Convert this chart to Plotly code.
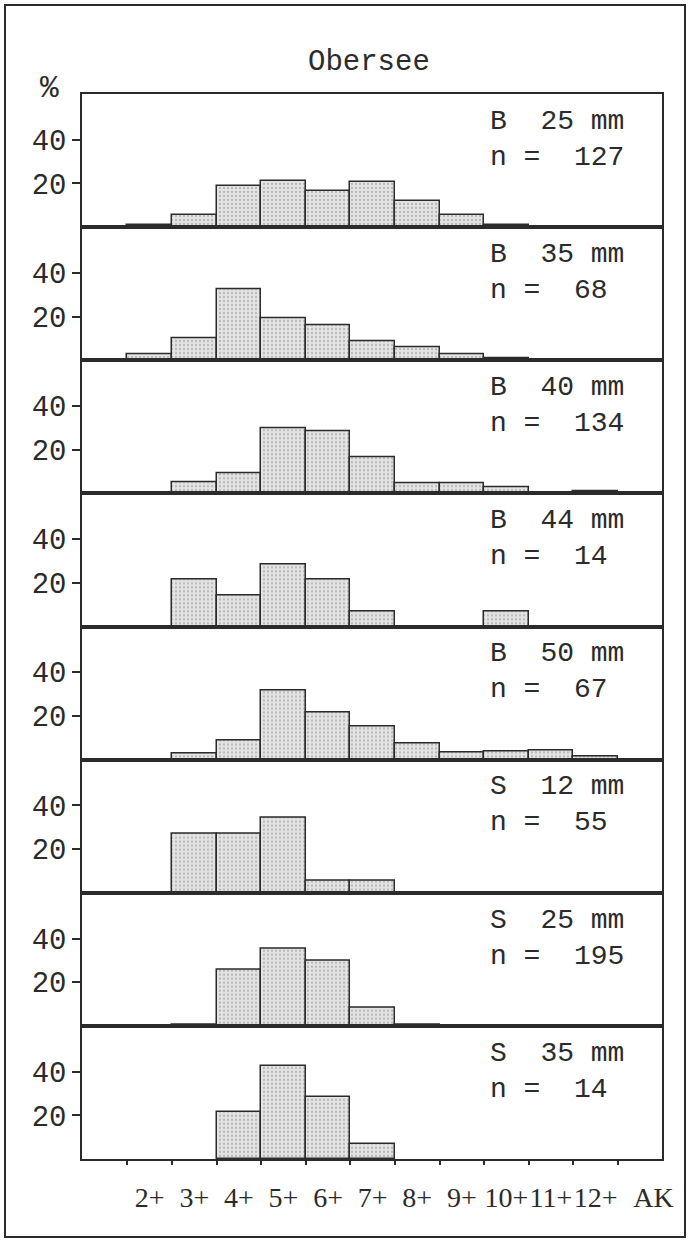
import plotly.graph_objects as go
from plotly.subplots import make_subplots

# ---- data -------------------------------------------------------------
age_classes = ["2+", "3+", "4+", "5+", "6+", "7+", "8+", "9+", "10+", "11+", "12+"]
age_pos = [2, 3, 4, 5, 6, 7, 8, 9, 10, 11, 12]
mesh_type = ["B", "B", "B", "B", "B", "S", "S", "S"]
mesh_size = ["25", "35", "40", "44", "50", "12", "25", "35"]
n_fish = [127, 68, 134, 14, 67, 55, 195, 14]

pct_b25 = [0.8, 5.5, 18.9, 21.3, 16.5, 20.5, 11.8, 5.5, 0.8, None, None]
pct_b35 = [2.9, 10.3, 32.4, 19.1, 16.2, 8.8, 5.9, 2.9, 0.8, None, None]
pct_b40 = [None, 5.0, 9.4, 30.0, 28.6, 16.7, 4.5, 4.5, 3.0, None, 0.9]
pct_b44 = [None, 21.4, 14.3, 28.6, 21.4, 7.1, None, None, 7.1, None, None]
pct_b50 = [None, 2.8, 8.9, 31.8, 21.8, 15.4, 7.4, 3.1, 3.8, 4.1, 1.5]
pct_s12 = [None, 27.3, 27.3, 34.5, 5.5, 5.5, None, None, None, None, None]
pct_s25 = [None, 0.5, 25.6, 35.4, 29.7, 8.2, 0.5, None, None, None, None]
pct_s35 = [None, None, 21.4, 42.9, 28.6, 7.1, None, None, None, None, None]
panels = [pct_b25, pct_b35, pct_b40, pct_b44, pct_b50, pct_s12, pct_s25, pct_s35]

bin_edges = [1.5, 2.5, 3.5, 4.5, 5.5, 6.5, 7.5, 8.5, 9.5, 10.5, 11.5, 12.5]
ak_pos = 13.3
y_ticks = [20, 40]

# ---- figure -----------------------------------------------------------
INK = "#2b2b2b"
MONO = "Liberation Mono, Courier New, monospace"
SERIF = "Liberation Serif, Times New Roman, serif"
NB = "\u00a0"

fig = make_subplots(rows=len(panels), cols=1, shared_xaxes=True, vertical_spacing=0)
last = len(panels)

for i, vals in enumerate(panels):
    r = i + 1
    fig.add_trace(
        go.Bar(
            x=age_pos, y=vals, width=1,
            marker=dict(
                color="#e2e2e2",
                line=dict(color=INK, width=1.5),
                pattern=dict(shape=".", fgcolor="#8a8a8a", bgcolor="#e4e4e4",
                             size=4, solidity=0.25),
            ),
            showlegend=False, hoverinfo="skip",
        ),
        row=r, col=1,
    )
    fig.update_yaxes(
        row=r, col=1, range=[0, 61], tickvals=y_ticks, ticktext=[str(v) for v in y_ticks],
        ticks="outside", ticklen=8, tickwidth=1.5, tickcolor=INK,
        showline=True, mirror=True, linecolor=INK, linewidth=1.5,
        showgrid=False, zeroline=False, automargin=False,
        tickfont=dict(family=MONO, size=29, color=INK),
    )
    xkw = dict(
        range=[0.48, 13.49],
        showline=True, mirror=True, linecolor=INK, linewidth=2,
        showgrid=False, zeroline=False, ticks="", tickangle=0, automargin=False,
        tickvals=age_pos + [ak_pos], ticktext=age_classes + ["AK"],
        showticklabels=(r == last),
        tickfont=dict(family=SERIF, size=28, color=INK),
    )
    if r == last:
        xkw["minor"] = dict(tickmode="array", tickvals=bin_edges, ticks="outside",
                            ticklen=4, tickwidth=1.5, tickcolor=INK, showgrid=False)
        xkw["ticklabelstandoff"] = 12
    fig.update_xaxes(row=r, col=1, **xkw)
    suffix = "" if r == 1 else str(r)
    fig.add_annotation(
        xref="x%s domain" % suffix, yref="y%s domain" % suffix,
        x=0.70, y=0.66, xanchor="left", yanchor="middle", align="left",
        text=mesh_type[i] + NB * 2 + mesh_size[i] + NB + "mm"
             + "<br>n" + NB + "=" + NB * 2 + str(n_fish[i]),
        showarrow=False, font=dict(family=MONO, size=28, color=INK),
    )

fig.add_annotation(xref="paper", yref="paper", x=0.495, y=1, yshift=32, yanchor="middle",
                   text="Obersee", showarrow=False, font=dict(family=MONO, size=29, color=INK))
fig.add_annotation(xref="paper", yref="paper", x=0, xshift=-33, y=1, yshift=6, yanchor="middle",
                   xanchor="center", text="%", showarrow=False,
                   font=dict(family=MONO, size=31, color=INK))

fig.update_layout(
    width=690, height=1242,
    margin=dict(l=82, r=28, t=94, b=83),
    paper_bgcolor="white", plot_bgcolor="white",
    bargap=0,
    shapes=[dict(type="rect", xref="paper", yref="paper",
                 x0=-77 / 580, x1=603 / 580, y0=-78 / 1065, y1=1 + 89 / 1065,
                 line=dict(color=INK, width=2))],
)

fig.write_html("out.html", config={"displayModeBar": False},
               post_script="document.body.style.margin='0';document.body.style.overflow='hidden';")
